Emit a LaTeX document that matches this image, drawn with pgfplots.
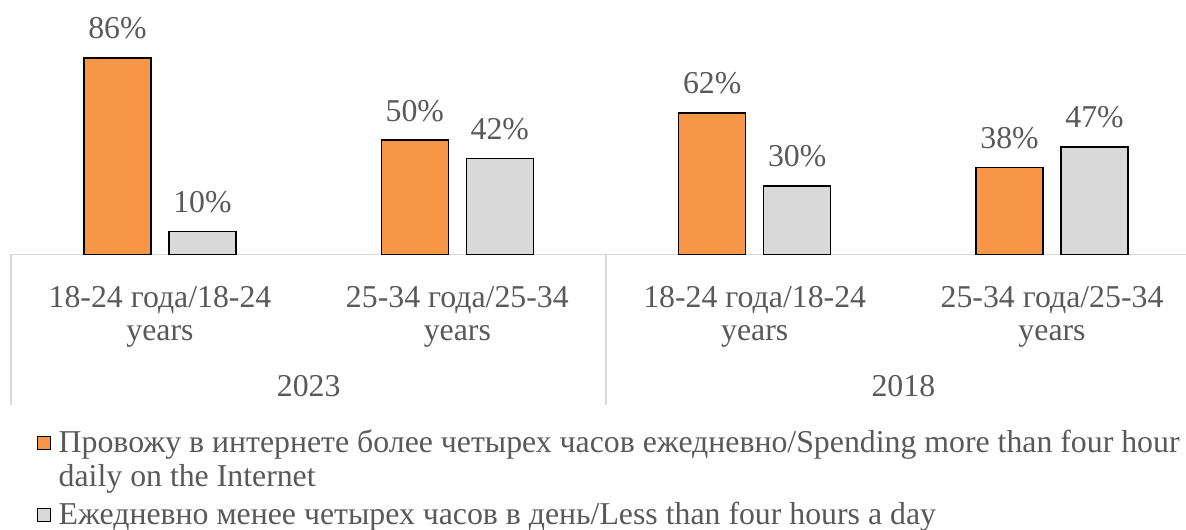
\documentclass[border=0pt]{standalone}
\usepackage{fontspec}
\setmainfont{Liberation Serif}
\usepackage{pgfplots}
\pgfplotsset{compat=1.18}
\definecolor{orng}{HTML}{F79646}
\definecolor{lgray}{HTML}{D9D9D9}
\definecolor{txt}{HTML}{595959}
\definecolor{gridc}{HTML}{D9D9D9}
\newcommand\lblfont{\fontsize{15.9}{16.5}\selectfont}

\begin{document}
\begin{tikzpicture}
\begin{axis}[
    scale only axis,
    width=594.7pt, height=127.15pt,
    xmin=-0.5, xmax=3.5, ymin=0, ymax=111.5,
    axis line style={draw=none},
    ytick=\empty,
    xtick={0,1,2,3},
    xticklabels={{18-24 года/18-24\\years},{25-34 года/25-34\\years},{18-24 года/18-24\\years},{25-34 года/25-34\\years}},
    xticklabel style={align=center, font=\lblfont, text=txt, yshift=-12.5pt},
    major tick length=0pt,
    ybar=9pt, bar width=33.5pt,
    clip=false,
    /pgf/number format/assume math mode=true,
    nodes near coords={\pgfmathprintnumber{\pgfplotspointmeta}\%},
    every node near coord/.append style={font=\lblfont, text=txt, anchor=south, inner sep=0pt, yshift=9pt},
    legend style={at={(0,0)}, anchor=north west, xshift=12.5pt, yshift=-85.5pt,
        draw=none, fill=none, inner sep=0pt, row sep=2.5pt,
        font=\fontsize{15.9}{17}\selectfont, text=txt,
        cells={anchor=base west},
        nodes={align=left, inner ysep=2pt, inner xsep=3.8pt}},
    legend image code/.code={\draw[#1, line width=0.6pt] (0pt,1.5pt) rectangle (6.6pt,8.1pt);},
]
\draw[gridc, line width=0.8pt] (axis cs:-0.5,0) -- (axis cs:3.5,0);
\draw[gridc, line width=0.8pt] (axis cs:-0.5,0) -- ([yshift=-75.35pt]axis cs:-0.5,0);
\draw[gridc, line width=0.8pt] (axis cs:1.5,0) -- ([yshift=-75.35pt]axis cs:1.5,0);
\draw[gridc, line width=0.8pt] (axis cs:3.5,0) -- ([yshift=-75.35pt]axis cs:3.5,0);
\addplot[fill=orng, draw=black, line width=0.8pt,
    legend image code/.code={\draw[##1, line width=0.6pt] (0pt,18.5pt) rectangle (6.6pt,25.1pt);}]
    coordinates {(0,86) (1,50) (2,62) (3,38)};
\addplot[fill=lgray, draw=black, line width=0.8pt] coordinates {(0,10) (1,42) (2,30) (3,47)};
\legend{{Провожу в интернете более четырех часов ежедневно/Spending more than four hour\\daily on the Internet},{Ежедневно менее четырех часов в день/Less than four hours a day}}
\node[font=\lblfont, text=txt, anchor=base, yshift=-70.85pt] at (axis cs:0.5,0) {2023};
\node[font=\lblfont, text=txt, anchor=base, yshift=-70.85pt] at (axis cs:2.5,0) {2018};
\end{axis}
\pgfresetboundingbox
\path[use as bounding box] (-5.65pt,127.15pt) rectangle (587.35pt,-137.35pt);
\end{tikzpicture}
\end{document}
